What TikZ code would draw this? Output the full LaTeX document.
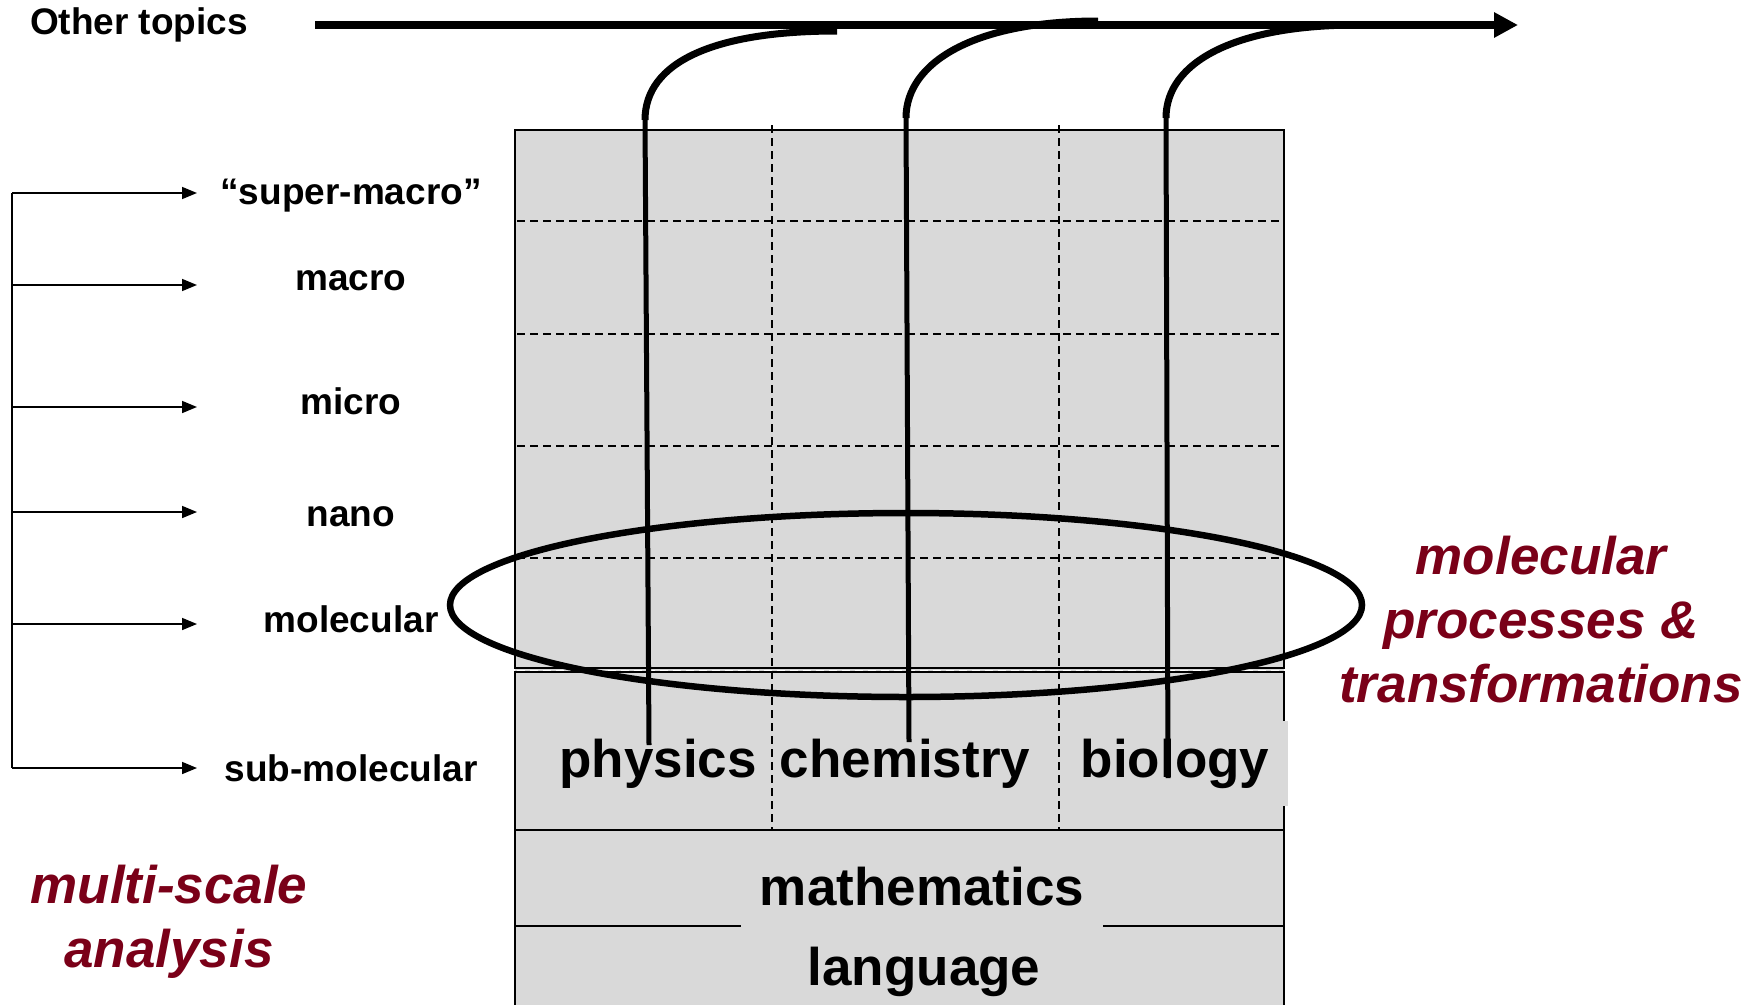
\documentclass[tikz,border=0pt]{standalone}
\usepackage{fontspec}
\setmainfont{Liberation Sans}
\usetikzlibrary{arrows.meta}
\definecolor{gridgray}{RGB}{217,217,217}
\definecolor{wine}{RGB}{122,0,24}

\begin{document}
\begin{tikzpicture}[x=1pt,y=-1pt,
  scalelabel/.style={font=\fontsize{37}{44}\selectfont\bfseries, inner sep=0pt, anchor=base},
  subject/.style={font=\fontsize{53}{64}\selectfont\bfseries, fill=gridgray, inner xsep=19pt, inner ysep=18pt, anchor=base},
  theme/.style={font=\fontsize{53}{64}\selectfont\bfseries\itshape, text=wine, align=center, inner sep=0pt},
  scalearrow/.style={-{Triangle[length=15pt,width=12pt]}, line width=1.6pt},
  gridline/.style={dash pattern=on 8pt off 5pt, line width=1.4pt},
  rowbox/.style={draw, line width=2pt, fill=gridgray},
  hook/.style={line width=7pt},
  strand/.style={line width=5pt}]
\useasboundingbox (0,0) rectangle (1744,1004);

% layered block of disciplines
\fill[gridgray] (515,130) rectangle (1284,1008);
\draw[rowbox] (515,130) rectangle (1284,668);
\draw[rowbox] (515,672) rectangle (1284,830);
\draw[rowbox] (515,830) rectangle (1284,926);
\draw[rowbox] (515,926) rectangle (1284,1008);
\draw[white, gridline, line width=1pt] (517,670) -- (1282,670);

\node[subject] (phys) at (658,777) {physics};
\node[subject] (chem) at (905,777) {chemistry};
\node[subject] (biol) at (1175,777) {biology};
\node[subject, inner ysep=22pt] (math) at (922,905) {mathematics};
\node[subject, fill=none] (lang) at (924,985) {language};

% scale grid
\foreach \y in {221,334,446,558}
  \draw[gridline] (517,\y) -- (1282,\y);
\foreach \x in {772,1059}
  \draw[gridline] (\x,125) -- (\x,830);

% molecular band
\draw[line width=6.5pt] (906,605) ellipse [x radius=456pt, y radius=92pt];

% topic flow
\node[scalelabel] (other) at (139,34) {Other topics};
\coordinate (flow-start) at (315,25);
\coordinate (flow-end) at (1518,25);
\draw[line width=8pt, -{Triangle[length=24pt,width=24pt]}] (flow-start) -- (flow-end);

\coordinate (phys-top) at (645,120);
\coordinate (phys-bot) at (649,745);
\coordinate (phys-end) at (837,31);
\coordinate (chem-top) at (906,118);
\coordinate (chem-bot) at (909,742);
\coordinate (chem-end) at (1098,21);
\coordinate (biol-top) at (1166,118);
\coordinate (biol-bot) at (1168,778);
\coordinate (biol-end) at (1358,25);

\draw[strand] (phys-top) -- (phys-bot);
\draw[strand] (chem-top) -- (chem-bot);
\draw[strand] (biol-top) -- (biol-bot);
\draw[hook] (phys-top) .. controls (645,62) and (714,31) .. (phys-end);
\draw[hook] (chem-top) .. controls (906,62) and (975,21) .. (chem-end);
\draw[hook] (biol-top) .. controls (1166,62) and (1235,25) .. (biol-end);

% scales
\node[scalelabel] (sup) at (351,204) {“super-macro”};
\node[scalelabel] (mac) at (351,290) {macro};
\node[scalelabel] (mic) at (351,414) {micro};
\node[scalelabel] (nan) at (351,526) {nano};
\node[scalelabel] (mol) at (351,632) {molecular};
\node[scalelabel] (sub) at (351,781) {sub-molecular};

\coordinate (bracket-top) at (12,193);
\coordinate (bracket-bot) at (12,768);
\draw[line width=1.6pt] (bracket-top) -- (bracket-bot);
\foreach \n/\y in {sup/193,mac/285,mic/407,nan/512,mol/624,sub/768} {
  \coordinate (\n-from) at (12,\y);
  \coordinate (\n-to) at (197,\y);
  \draw[scalearrow] (\n-from) -- (\n-to);
}

\node[theme] (proc) at (1541,620) {molecular\\processes \&\\transformations};
\node[theme] (multi) at (169,922) {multi-scale\\analysis};
\end{tikzpicture}
\end{document}
